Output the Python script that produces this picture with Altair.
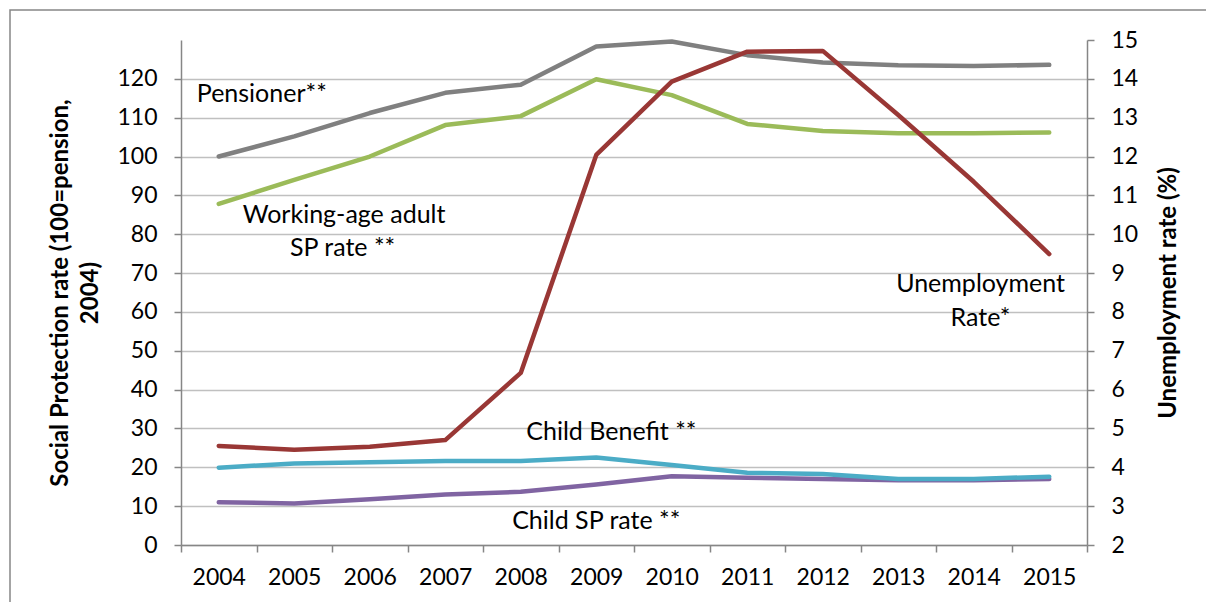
import altair as alt
import pandas as pd

years = [2004, 2005, 2006, 2007, 2008, 2009, 2010, 2011, 2012, 2013, 2014, 2015]
pensioner = [100.0, 105.2, 111.2, 116.4, 118.5, 128.3, 129.6, 126.1, 124.2, 123.5, 123.3, 123.6]
working_age = [87.8, 94.0, 100.0, 108.1, 110.4, 119.9, 115.8, 108.4, 106.6, 106.0, 106.0, 106.2]
child_benefit = [19.9, 21.0, 21.3, 21.6, 21.6, 22.5, 20.6, 18.6, 18.3, 17.0, 17.0, 17.6]
child_sp = [11.0, 10.7, 11.8, 13.0, 13.7, 15.6, 17.7, 17.3, 17.0, 16.7, 16.7, 17.0]
unemployment = [4.55, 4.45, 4.53, 4.70, 6.43, 12.04, 13.93, 14.70, 14.72, 13.07, 11.35, 9.49]

left_ticks = [0, 10, 20, 30, 40, 50, 60, 70, 80, 90, 100, 110, 120]
right_ticks = [2, 3, 4, 5, 6, 7, 8, 9, 10, 11, 12, 13, 14, 15]
band_edges = [y - 0.5 for y in years] + [years[-1] + 0.5]

ann_text = ["Pensioner**", "Working-age adult", "SP rate  **", "Unemployment", "Rate*",
            "Child Benefit **", "Child SP rate **"]
ann_x = [2004.57, 2005.66, 2005.64, 2014.09, 2014.09, 2009.2, 2009.0]
ann_y = [116, 85, 76.5, 67.2, 58.4, 29.1, 6.2]

W, H = 906, 505
FONT = "Lato"
AXIS_GRAY = "#868686"
FS = 23

x_scale = alt.Scale(domain=[band_edges[0], band_edges[-1]], nice=False, zero=False)
x_enc = alt.X(
    "year:Q",
    scale=x_scale,
    axis=alt.Axis(
        values=band_edges,
        labelExpr="datum.value < 2015 ? format(datum.value + 0.5, 'd') : ''",
        labelOffset=W / 12 / 2,
        title=None,
        grid=False,
        domainColor=AXIS_GRAY,
        domainWidth=1.5,
        tickColor=AXIS_GRAY,
        tickWidth=1.5,
        tickSize=7,
        labelFontSize=FS,
        labelFont=FONT,
        labelColor="#000000",
        labelPadding=14,
        labelFlush=False,
        labelOverlap=False,
    ),
)

left_axis = alt.Axis(
    values=left_ticks,
    title=["Social Protection rate (100=pension,", "2004)"],
    titleFont=FONT,
    titleFontSize=24,
    titleFontWeight="bold",
    titleColor="#000000",
    titleLineHeight=30,
    titlePadding=14,
    grid=True,
    gridColor="#c0c0c0",
    gridWidth=1.5,
    domainColor=AXIS_GRAY,
    domainWidth=1.5,
    tickColor=AXIS_GRAY,
    tickWidth=1.5,
    tickSize=7,
    labelFontSize=FS,
    labelFont=FONT,
    labelColor="#000000",
    labelPadding=17,
)
left_scale = alt.Scale(domain=[0, 130], nice=False)


def left_line(values, color):
    df = pd.DataFrame({"year": years, "value": values})
    return alt.Chart(df).mark_line(color=color, strokeWidth=4.5, strokeCap="round", strokeJoin="round").encode(
        x=x_enc,
        y=alt.Y("value:Q", scale=left_scale, axis=left_axis),
    )


frame = alt.Chart(pd.DataFrame({"k": [0]})).mark_rect(
    fill=None, stroke=AXIS_GRAY, strokeWidth=1.5
).encode(
    x=alt.value(-171), x2=alt.value(1040), y=alt.value(-30), y2=alt.value(580)
)

ann_df = pd.DataFrame({"year": ann_x, "value": ann_y, "text": ann_text})
annotations = alt.Chart(ann_df).mark_text(
    font=FONT, fontSize=25, color="#000000", align="center", baseline="middle"
).encode(
    x=alt.X("year:Q", scale=x_scale),
    y=alt.Y("value:Q", scale=left_scale),
    text="text:N",
)

left = alt.layer(
    frame,
    left_line(pensioner, "#808080"),
    left_line(working_age, "#9bbb59"),
    left_line(child_sp, "#8064a2"),
    left_line(child_benefit, "#4bacc6"),
    annotations,
)

unemp_df = pd.DataFrame({"year": years, "rate": unemployment})
right = alt.Chart(unemp_df).mark_line(
    color="#993735", strokeWidth=4.5, strokeCap="round", strokeJoin="round"
).encode(
    x=x_enc,
    y=alt.Y(
        "rate:Q",
        scale=alt.Scale(domain=[2, 15], nice=False, zero=False),
        axis=alt.Axis(
            orient="right",
            values=right_ticks,
            title="Unemployment rate (%)",
            titleFont=FONT,
            titleFontSize=24,
            titleFontWeight="bold",
            titleColor="#000000",
            titleAngle=270,
            titleBaseline="top",
            titlePadding=19,
            grid=False,
            domainColor=AXIS_GRAY,
            domainWidth=1.5,
            tickColor=AXIS_GRAY,
            tickWidth=1.5,
            tickSize=7,
            labelFontSize=FS,
            labelFont=FONT,
            labelColor="#000000",
            labelPadding=17,
        ),
    ),
)

chart = (
    alt.layer(left, right)
    .resolve_scale(y="independent")
    .properties(
        width=W,
        height=H,
        padding={"left": 181, "top": 40, "right": 119, "bottom": 57},
        autosize=alt.AutoSizeParams(type="none"),
        background="#ffffff",
    )
    .configure_view(stroke=None)
)

chart.save("out.html", embed_options={"renderer": "svg", "actions": False})
